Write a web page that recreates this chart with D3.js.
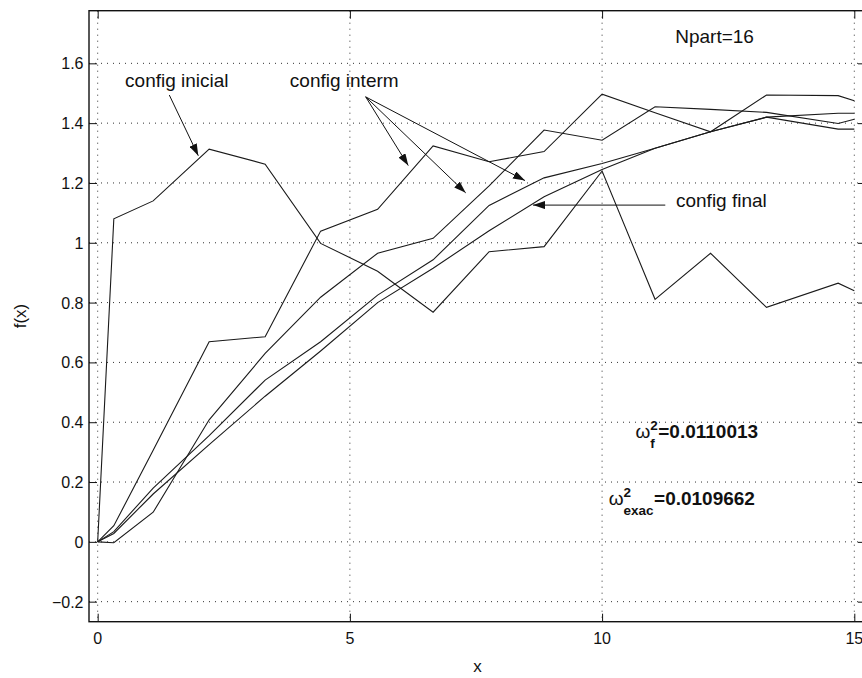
<!DOCTYPE html>
<html>
<head>
<meta charset="utf-8">
<script src="https://cdn.jsdelivr.net/npm/d3@7"></script>
<style>
  body { margin: 0; background: #fff; }
  svg { display: block; font-family: "Liberation Sans", Arial, Helvetica, sans-serif; }
</style>
</head>
<body>
<svg id="chart" width="862" height="678"></svg>
<script>
// knot positions shared by every configuration
const xKnots = [0, 0.32, 1.1, 2.21, 3.32, 4.42, 5.55, 6.65, 7.76, 8.85, 10, 11.05, 12.15, 13.26, 14.68, 15];

const configInicial = [0, 1.08, 1.14, 1.313, 1.263, 0.998, 0.905, 0.768, 0.97, 0.987, 1.24, 0.811, 0.965, 0.784, 0.865, 0.84];
const configInterm1 = [0, 0.054, 0.306, 0.669, 0.686, 1.039, 1.112, 1.324, 1.271, 1.305, 1.497, 1.435, 1.371, 1.494, 1.492, 1.475];
const configInterm2 = [0, -0.003, 0.099, 0.408, 0.63, 0.818, 0.965, 1.015, 1.19, 1.377, 1.343, 1.455, 1.446, 1.436, 1.399, 1.413];
const configInterm3 = [0, 0.034, 0.18, 0.355, 0.541, 0.669, 0.825, 0.943, 1.125, 1.217, 1.265, 1.316, 1.371, 1.42, 1.433, 1.433];
const configFinal   = [0, 0.028, 0.16, 0.325, 0.487, 0.638, 0.80, 0.915, 1.04, 1.154, 1.245, 1.316, 1.371, 1.42, 1.38, 1.38];

const xTicks = [0, 5, 10, 15];
const yTicks = [-0.2, 0, 0.2, 0.4, 0.6, 0.8, 1, 1.2, 1.4, 1.6];
const yTickLabels = ["\u22120.2", "0", "0.2", "0.4", "0.6", "0.8", "1", "1.2", "1.4", "1.6"];

const svg = d3.select('#chart');

const plot = { left: 89, right: 866, top: 10.7, bottom: 621.7 };

const x = d3.scaleLinear().domain([-0.172, 15.232]).range([plot.left, plot.right]);
const y = d3.scaleLinear().domain([-0.267, 1.776]).range([plot.bottom, plot.top]);

svg.append('defs').append('clipPath').attr('id', 'clip')
   .append('rect')
   .attr('x', plot.left).attr('y', plot.top)
   .attr('width', plot.right - plot.left).attr('height', plot.bottom - plot.top);

svg.select('defs').append('marker')
   .attr('id', 'arrow')
   .attr('viewBox', '0 0 12 8')
   .attr('refX', 12).attr('refY', 4)
   .attr('markerWidth', 12).attr('markerHeight', 8)
   .attr('markerUnits', 'userSpaceOnUse')
   .attr('orient', 'auto')
   .append('path').attr('d', 'M0,0 L12,4 L0,8 Z').attr('fill', '#111');

// dotted grid
const grid = svg.append('g').attr('stroke', '#333').attr('stroke-width', 1).attr('stroke-dasharray', '1,5');
grid.selectAll('.gy').data(yTicks).enter().append('line')
    .attr('x1', plot.left).attr('x2', plot.right)
    .attr('y1', d => y(d)).attr('y2', d => y(d));
grid.selectAll('.gx').data(xTicks).enter().append('line')
    .attr('y1', plot.top).attr('y2', plot.bottom)
    .attr('x1', d => x(d)).attr('x2', d => x(d));

// axes (inward ticks, MATLAB box style)
svg.append('g').attr('transform', `translate(0,${plot.bottom})`)
   .call(d3.axisBottom(x).tickValues(xTicks).tickSizeInner(-8).tickSizeOuter(0).tickFormat(''))
   .call(g => g.select('.domain').remove());
svg.append('g').attr('transform', `translate(0,${plot.top})`)
   .call(d3.axisTop(x).tickValues(xTicks).tickSizeInner(-8).tickSizeOuter(0).tickFormat(''))
   .call(g => g.select('.domain').remove());
svg.append('g').attr('transform', `translate(${plot.left},0)`)
   .call(d3.axisLeft(y).tickValues(yTicks).tickSizeInner(-8).tickSizeOuter(0).tickFormat(''))
   .call(g => g.select('.domain').remove());
svg.append('g').attr('transform', `translate(${plot.right},0)`)
   .call(d3.axisRight(y).tickValues(yTicks).tickSizeInner(-8).tickSizeOuter(0).tickFormat(''))
   .call(g => g.select('.domain').remove());
svg.selectAll('.tick line').attr('stroke', '#111');

svg.append('rect')
   .attr('x', plot.left).attr('y', plot.top)
   .attr('width', plot.right - plot.left).attr('height', plot.bottom - plot.top)
   .attr('fill', 'none').attr('stroke', '#111').attr('stroke-width', 1.4);

// tick labels
svg.append('g').selectAll('text').data(xTicks).enter().append('text')
   .attr('x', d => x(d)).attr('y', 643.5)
   .attr('text-anchor', 'middle').attr('font-size', 16).attr('fill', '#111')
   .text(d => d);
svg.append('g').selectAll('text').data(yTicks).enter().append('text')
   .attr('x', 83.5).attr('y', d => y(d) + 6)
   .attr('text-anchor', 'end').attr('font-size', 16).attr('fill', '#111')
   .text((d, i) => yTickLabels[i]);

// axis labels
svg.append('text').attr('x', x(7.53)).attr('y', 672)
   .attr('text-anchor', 'middle').attr('font-size', 17).attr('fill', '#111').text('x');
svg.append('text').attr('transform', 'translate(26,316) rotate(-90)')
   .attr('text-anchor', 'middle').attr('font-size', 17).attr('fill', '#111').text('f(x)');

// curves
const series = [configInicial, configInterm1, configInterm2, configInterm3, configFinal];
const line = d3.line().x((d, i) => x(xKnots[i])).y(d => y(d));
svg.append('g').attr('clip-path', 'url(#clip)')
   .selectAll('path').data(series).enter().append('path')
   .attr('d', line)
   .attr('fill', 'none').attr('stroke', '#1a1a1a').attr('stroke-width', 1.1);

// annotations
const ann = svg.append('g').attr('font-size', 19).attr('fill', '#111');
ann.append('text').attr('x', x(0.543)).attr('y', y(1.52)).text('config inicial');
ann.append('text').attr('x', x(3.81)).attr('y', y(1.52)).text('config interm');
ann.append('text').attr('x', x(11.465)).attr('y', y(1.118)).text('config final');
ann.append('text').attr('x', x(11.45)).attr('y', y(1.667)).text('Npart=16');

const arrows = [
  [[1.42, 1.494], [1.995, 1.291]],
  [[5.313, 1.488], [6.158, 1.258]],
  [[5.313, 1.488], [7.296, 1.167]],
  [[5.313, 1.488], [8.471, 1.208]],
  [[11.253, 1.126], [8.63, 1.126]]
];
svg.append('g').selectAll('line').data(arrows).enter().append('line')
   .attr('x1', d => x(d[0][0])).attr('y1', d => y(d[0][1]))
   .attr('x2', d => x(d[1][0])).attr('y2', d => y(d[1][1]))
   .attr('stroke', '#111').attr('stroke-width', 1)
   .attr('marker-end', 'url(#arrow)');

// omega labels: ω, stacked sup/sub, then value
function omegaLabel(ux, vy, sub, value) {
  const g = svg.append('g').attr('fill', '#111');
  const x0 = x(ux), y0 = y(vy);
  const w = g.append('text').attr('x', x0).attr('y', y0).attr('font-size', 19).text('\u03c9');
  const wl = w.node().getComputedTextLength();
  const sp = g.append('text').attr('x', x0 + wl).attr('y', y0 - 8)
     .attr('font-size', 13.5).attr('font-weight', 'bold').text('2');
  const sb = g.append('text').attr('x', x0 + wl).attr('y', y0 + 10)
     .attr('font-size', 13.5).attr('font-weight', 'bold').text(sub);
  const ext = Math.max(sp.node().getComputedTextLength(), sb.node().getComputedTextLength());
  g.append('text').attr('x', x0 + wl + ext + 0.5).attr('y', y0)
     .attr('font-size', 19).attr('font-weight', 'bold').text(value);
}
omegaLabel(10.66, 0.346, 'f', '=0.0110013');
omegaLabel(10.13, 0.123, 'exac', '=0.0109662');
</script>
</body>
</html>
